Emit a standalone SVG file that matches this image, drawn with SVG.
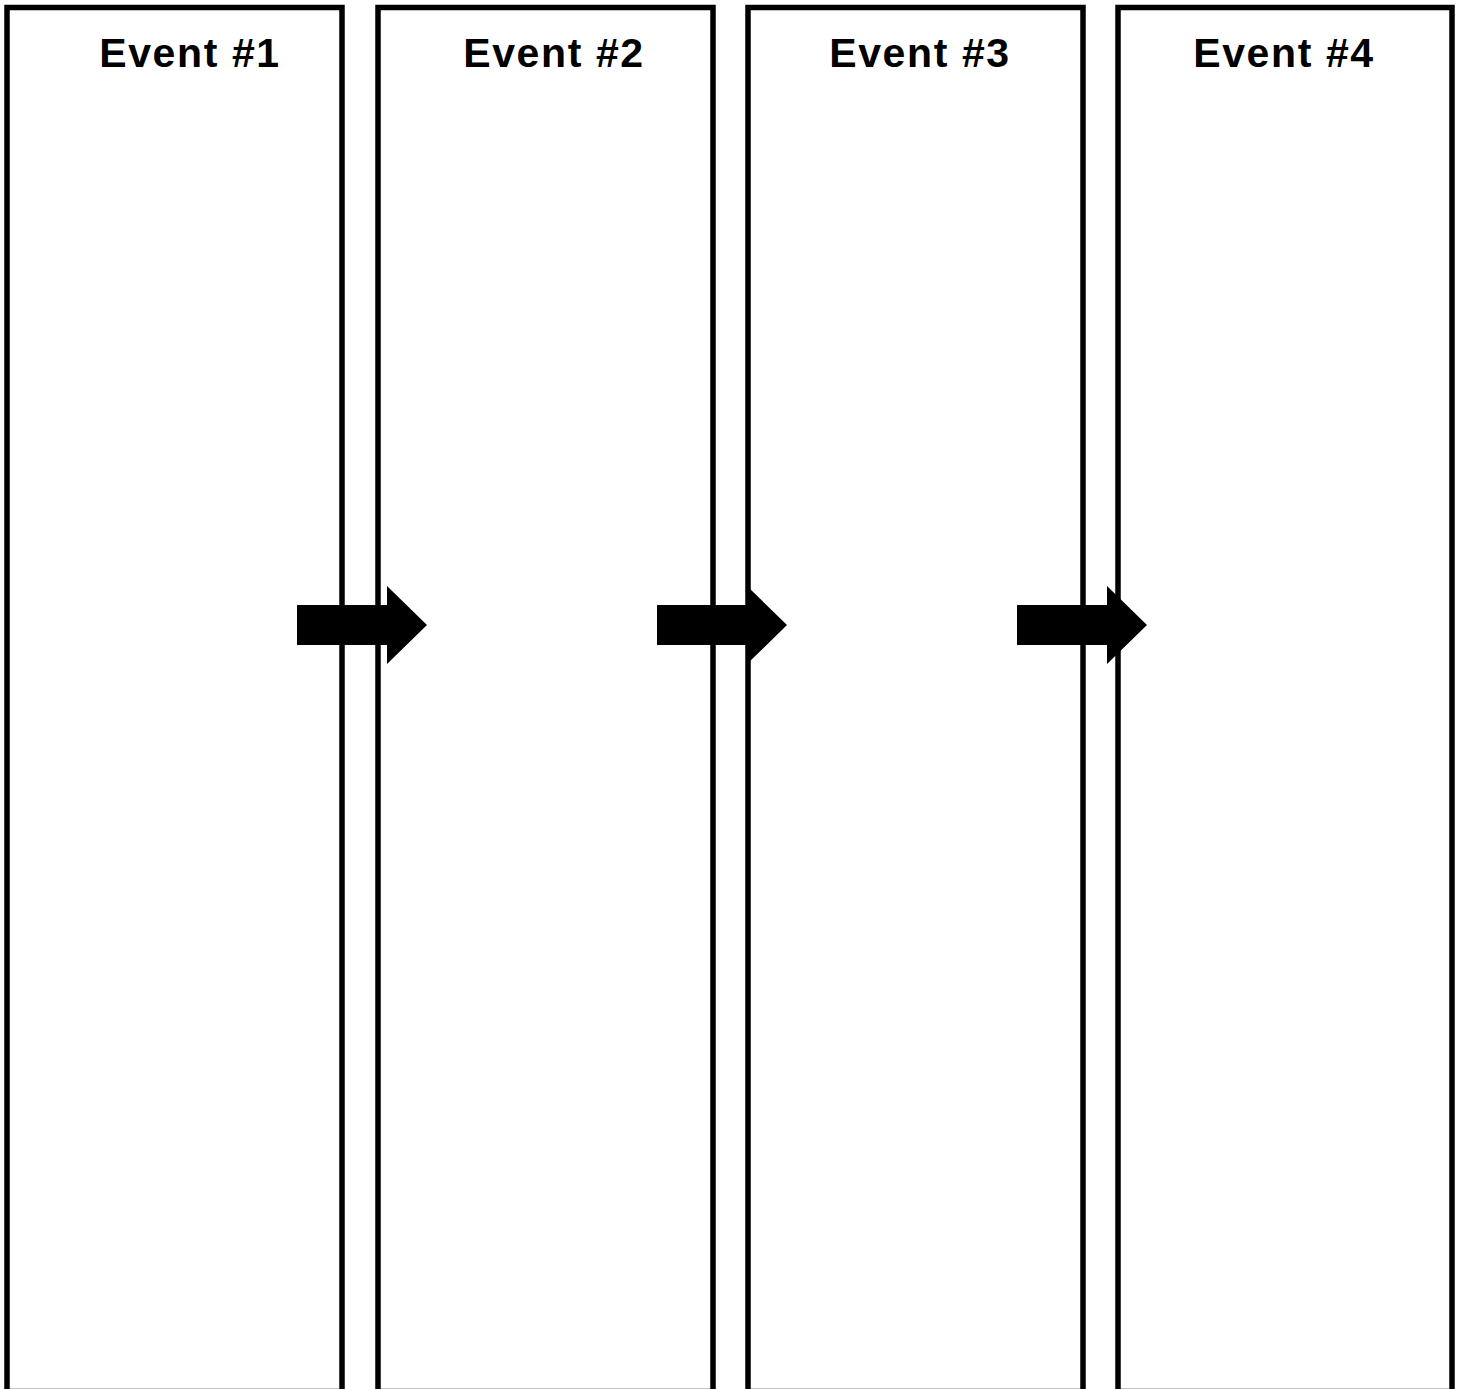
<svg xmlns="http://www.w3.org/2000/svg" width="1461" height="1389" viewBox="0 0 1461 1389">
<style>
.box{fill:#fff;stroke:#000;stroke-width:5.5}
.lbl{font-family:"Liberation Sans",Arial,sans-serif;font-weight:bold;font-size:41px;fill:#000;text-anchor:middle;letter-spacing:1.6px}
.arr{fill:#000;stroke:none}
</style>
<rect width="1461" height="1389" fill="#fff"/>
<g id="event1"><rect class="box" x="7" y="7.5" width="335" height="1384"/><text class="lbl" x="190" y="67">Event #1</text></g>
<g id="event2"><rect class="box" x="378" y="7.5" width="335" height="1384"/><text class="lbl" x="554" y="67">Event #2</text></g>
<g id="event3"><rect class="box" x="748" y="7.5" width="335" height="1384"/><text class="lbl" x="920" y="67">Event #3</text></g>
<g id="event4"><rect class="box" x="1118" y="7.5" width="334" height="1384"/><text class="lbl" x="1284" y="67">Event #4</text></g>
<g id="connectors">
<polygon class="arr" points="297,605 387,605 387,586 427,625 387,664 387,645 297,645"/>
<polygon class="arr" points="657,605 747,605 747,586 787,625 747,664 747,645 657,645"/>
<polygon class="arr" points="1017,605 1107,605 1107,586 1147,625 1107,664 1107,645 1017,645"/>
</g>
</svg>
